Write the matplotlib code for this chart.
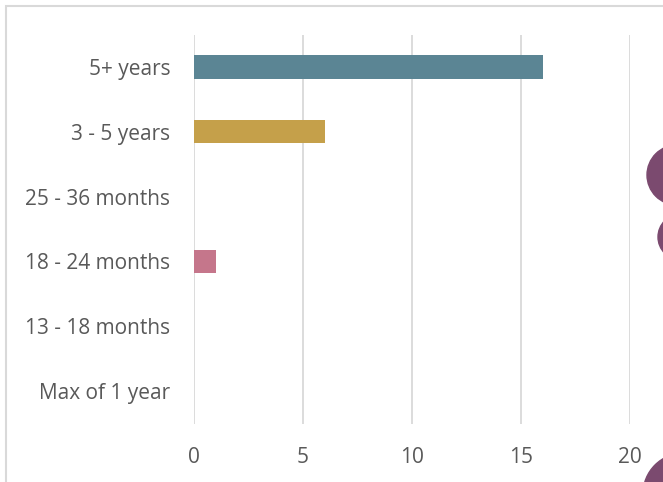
import matplotlib
matplotlib.use("Agg")
import matplotlib.pyplot as plt
from matplotlib.patches import Ellipse, Rectangle

categories = ["5+ years", "3 - 5 years", "25 - 36 months", "18 - 24 months",
              "13 - 18 months", "Max of 1 year"]
values = [16, 6, 0, 1, 0, 0]
colors = ["#5b8594", "#c5a04a", "#c5a04a", "#c5768b", "#c5768b", "#c5768b"]
xticks = [0, 5, 10, 15, 20]

W, H = 663, 482
plt.rcParams.update({"font.family": ["Open Sans", "DejaVu Sans"]})
fig = plt.figure(figsize=(W / 100, H / 100), dpi=100)
ax = fig.add_axes([194 / W, 1 - 423.5 / H, (630 - 194) / W, (423.5 - 34.5) / H])

ypos = list(range(len(categories)))
ax.barh(ypos, values, height=0.36, color=colors, zorder=3)
ax.set_ylim(len(categories) - 0.5, -0.5)
ax.set_xlim(0, 20)
ax.set_yticks(ypos)
ax.set_yticklabels(categories)
ax.set_xticks(xticks)
ax.grid(axis="x", color="#d9d9d9", lw=1.3, zorder=0)
for s in ax.spines.values():
    s.set_visible(False)
ax.tick_params(length=0, labelsize=15, colors="#595959")
ax.tick_params(axis="y", pad=17)
ax.tick_params(axis="x", pad=17)

# chart frame, cut off at the right and bottom
fig.patches.append(Rectangle((6 / W, -0.1), 1.2, 1 - 6 / H + 0.1, transform=fig.transFigure,
                             fill=False, ec="#d9d9d9", lw=1.5, zorder=0))

# decorative purple dots on the right edge
purple = "#7b4a6f"
for cx, cy, r in [(677, 175, 30), (681, 237, 23), (684, 494, 41)]:
    fig.patches.append(Ellipse((cx / W, 1 - cy / H), 2 * r / W, 2 * r / H,
                               transform=fig.transFigure, color=purple, zorder=5))

fig.savefig("out.png", dpi=100, facecolor="white")
